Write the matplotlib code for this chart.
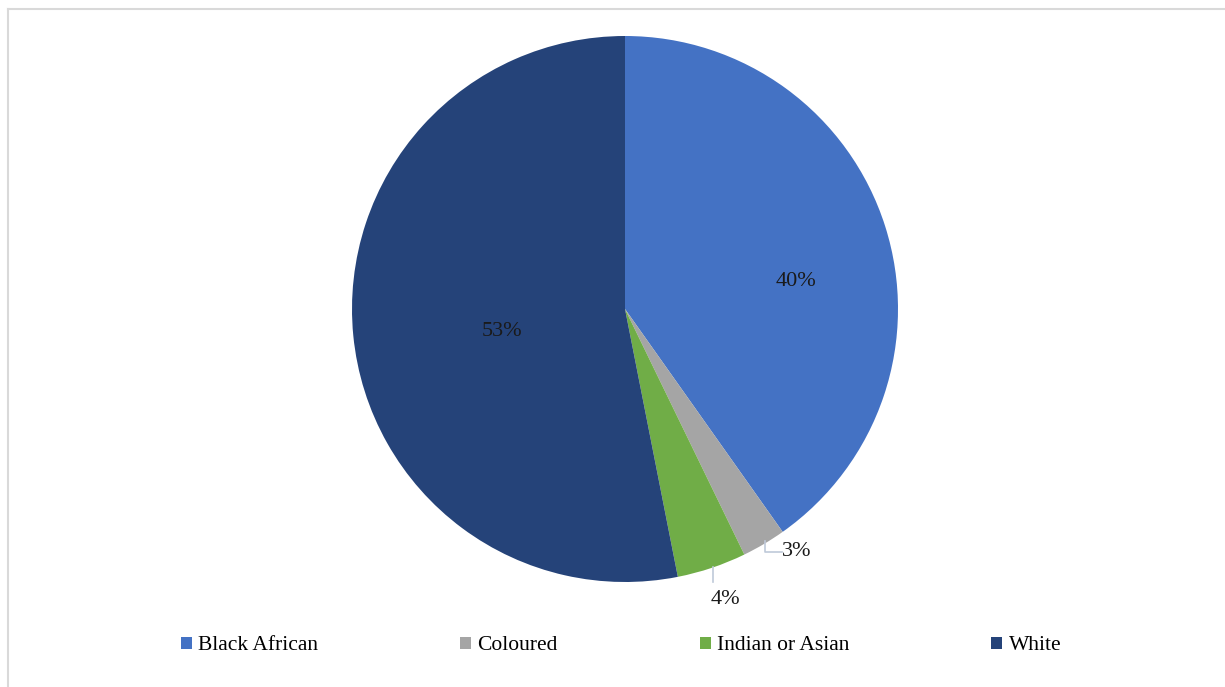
import matplotlib
matplotlib.use("Agg")
import matplotlib.pyplot as plt
from matplotlib.patches import Patch
from matplotlib.lines import Line2D

categories = ["Black African", "Coloured", "Indian or Asian", "White"]
shares = [40.2, 2.6, 4.1, 53.1]
labels = ["40%", "3%", "4%", "53%"]
colors = ["#4472C4", "#A5A5A5", "#70AD47", "#254379"]

plt.rcParams["font.family"] = ["Liberation Serif", "DejaVu Serif"]

W, H = 1225, 687
fig = plt.figure(figsize=(W / 100, H / 100), dpi=100)

cx, cy, r = 625, 309, 273
ax = fig.add_axes([(cx - r) / W, (H - cy - r) / H, 2 * r / W, 2 * r / H])
wedges, _ = ax.pie(shares, colors=colors, startangle=90, counterclock=False,
                   radius=1.0, wedgeprops=dict(linewidth=0))
ax.set_xlim(-1, 1)
ax.set_ylim(-1, 1)
ax.set_aspect("equal")
ax.axis("off")

# data labels (pixel positions converted to axes fractions)
def px(x, y):
    return ((x - (cx - r)) / (2 * r), (H - y - (H - cy - r)) / (2 * r))

label_pos = [(796, 281), (797, 551), (725, 600), (502, 332)]
for lab, (x, y) in zip(labels, label_pos):
    ax.text(*px(x, y), lab, transform=ax.transAxes, ha="center", va="center",
            fontsize=16, color="#1a1a1a")

# leader lines for the small slices
lc = "#BFC9D9"
p = [px(765, 541), px(765, 552), px(782, 552)]
ax.add_line(Line2D([q[0] for q in p], [q[1] for q in p], transform=ax.transAxes,
                   color=lc, lw=1.2, clip_on=False))
p = [px(713, 567), px(713, 582)]
ax.add_line(Line2D([q[0] for q in p], [q[1] for q in p], transform=ax.transAxes,
                   color=lc, lw=1.2, clip_on=False))

handles = [Patch(facecolor=c, edgecolor="none") for c in colors]
leg = fig.legend(handles, categories, loc="center", bbox_to_anchor=(0.507, 1 - 646 / H),
                 ncol=4, frameon=False, fontsize=15.5, handlelength=0.5, handleheight=0.5,
                 handletextpad=0.3, columnspacing=6.6, borderpad=0)

# outer frame (top and left edges)
fig.add_artist(Line2D([8 / W, 1], [1 - 9 / H, 1 - 9 / H], transform=fig.transFigure,
                      color="#D9D9D9", lw=1.5))
fig.add_artist(Line2D([8 / W, 8 / W], [0, 1 - 9 / H], transform=fig.transFigure,
                      color="#D9D9D9", lw=1.5))

fig.savefig("out.png", dpi=100, facecolor="white")
